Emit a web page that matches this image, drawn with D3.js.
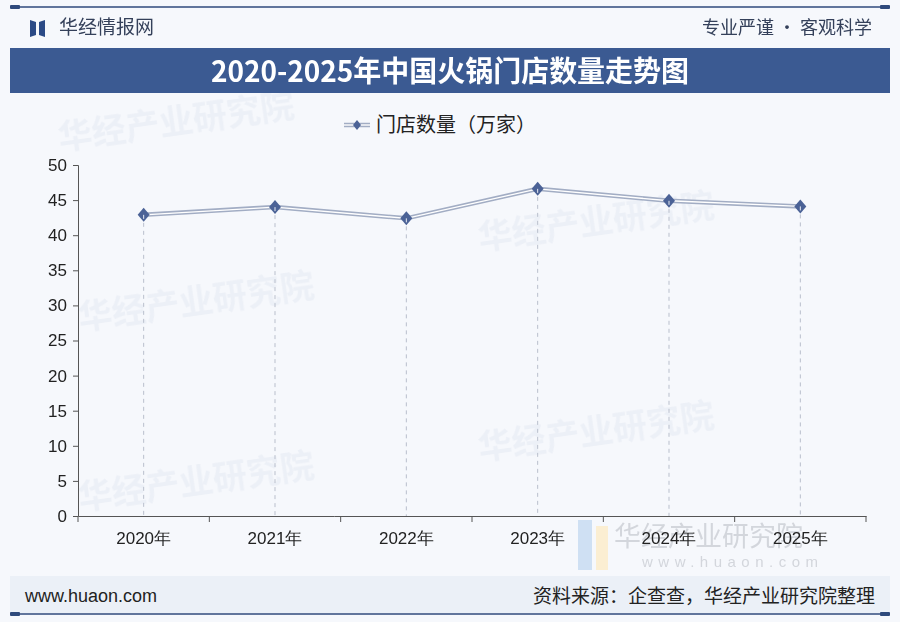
<!DOCTYPE html>
<html><head><meta charset="utf-8">
<script src="https://cdn.jsdelivr.net/npm/d3@7"></script>
<style>
html,body{margin:0;padding:0;background:#f6f8fc;}
svg{display:block;font-family:"Noto Sans CJK SC","Noto Sans",sans-serif;}
</style></head>
<body>
<svg id="c" width="900" height="622"></svg>
<script>
const years = ["2020年","2021年","2022年","2023年","2024年","2025年"];
const stores = [42.9, 44.0, 42.4, 46.6, 44.9, 44.1];
const yTicks = [0,5,10,15,20,25,30,35,40,45,50];
const title = "2020-2025年中国火锅门店数量走势图";
const seriesName = "门店数量（万家）";

const svg = d3.select("#c");
const W = 900, H = 622;
svg.append("rect").attr("width",W).attr("height",H).attr("fill","#f6f8fc");

// watermarks
const wm = svg.append("g").attr("fill","#3b5a92").attr("opacity",0.05).attr("font-size",34).attr("font-weight","bold");
[[60,150],[480,250],[80,330],[480,460],[80,510]].forEach(p=>{
  wm.append("text").attr("x",p[0]).attr("y",p[1]).attr("transform",`rotate(-8,${p[0]},${p[1]})`).text("华经产业研究院");
});

// top rule
svg.append("line").attr("x1",12).attr("x2",888).attr("y1",7).attr("y2",7).attr("stroke","#2f4a7c").attr("stroke-width",1.5);
svg.append("rect").attr("x",10).attr("y",5).attr("width",10).attr("height",4).attr("fill","#2f4a7c").attr("rx",1);
svg.append("rect").attr("x",880).attr("y",5).attr("width",10).attr("height",4).attr("fill","#2f4a7c").attr("rx",1);

// logo
svg.append("path").attr("d","M30,20 L36,22 L36,35 L30,37 Z").attr("fill","#2b4a86");
svg.append("path").attr("d","M39,22 L45,20 L45,37 L39,35 Z").attr("fill","#2b4a86");
svg.append("text").attr("x",59).attr("y",34).attr("font-size",19).attr("fill","#34405a").text("华经情报网");
svg.append("text").attr("x",872).attr("y",34).attr("font-size",18).attr("fill","#34405a").attr("text-anchor","end").text("专业严谨 • 客观科学");

// title band
svg.append("rect").attr("x",10).attr("y",48).attr("width",880).attr("height",45).attr("fill","#3b5a92");
svg.append("text").attr("x",450).attr("y",82).attr("text-anchor","middle").attr("font-size",29).attr("font-weight","bold")
  .attr("fill","#ffffff").attr("textLength",478).attr("lengthAdjust","spacingAndGlyphs").text(title);

// chart
const x = d3.scaleBand().domain(years).range([78,866]);
const y = d3.scaleLinear().domain([0,50]).range([516,165]);

// y axis
const yAx = svg.append("g").attr("transform","translate(78,0)")
  .call(d3.axisLeft(y).tickValues(yTicks).tickSize(5).tickPadding(6));
yAx.select(".domain").attr("stroke","#555").attr("d","M-5,165.5H0.5V516.5");
yAx.selectAll(".tick line").attr("stroke","#555");
yAx.selectAll("text").attr("font-size",17).attr("fill","#222").attr("font-family","'Liberation Sans',Arial,sans-serif");

// x axis
const xAx = svg.append("g").attr("transform","translate(0,516)")
  .call(d3.axisBottom(x).tickSize(0).tickPadding(16));
xAx.select(".domain").attr("stroke","#555");
xAx.selectAll("text").attr("font-size",17).attr("fill","#222");
const edges = years.map(d=>x(d)).concat([x.range()[1]]);
svg.append("g").selectAll("line").data(edges).join("line")
  .attr("x1",d=>d).attr("x2",d=>d).attr("y1",516).attr("y2",522).attr("stroke","#555");

// bottom-right watermark
const bw = svg.append("g");
bw.append("rect").attr("x",578).attr("y",520).attr("width",14).attr("height",50).attr("fill","#cfe0f3");
bw.append("rect").attr("x",596).attr("y",526).attr("width",12).attr("height",44).attr("fill","#fbeed2");
bw.append("text").attr("x",614).attr("y",546).attr("font-size",27).attr("fill","#d3d6dc").text("华经产业研究院");
bw.append("text").attr("x",642).attr("y",567).attr("font-size",15).attr("fill","#d3d6dc").attr("letter-spacing",5.5).attr("font-family","'Liberation Sans',Arial").text("www.huaon.com");
xAx.raise();

// drop lines
svg.append("g").selectAll("line").data(stores).join("line")
  .attr("x1",(d,i)=>x(years[i])+x.bandwidth()/2).attr("x2",(d,i)=>x(years[i])+x.bandwidth()/2)
  .attr("y1",d=>y(d)).attr("y2",516)
  .attr("stroke","#b9bfcc").attr("stroke-width",1).attr("stroke-dasharray","4,4");

// line (double)
const line = d3.line().x((d,i)=>x(years[i])+x.bandwidth()/2).y(d=>y(d));
svg.append("path").datum(stores).attr("d",line).attr("fill","none").attr("stroke","#a2adc4").attr("stroke-width",4.5);
svg.append("path").datum(stores).attr("d",line).attr("fill","none").attr("stroke","#ffffff").attr("stroke-width",1.4);

// markers
const mk = svg.append("g").selectAll("g").data(stores).join("g")
  .attr("transform",(d,i)=>`translate(${x(years[i])+x.bandwidth()/2},${y(d)})`);
mk.append("path").attr("d","M0,-7L6,0L0,7L-6,0Z").attr("fill","#4b6296");
mk.append("line").attr("x1",0).attr("x2",0).attr("y1",0).attr("y2",4).attr("stroke","#e8ecf5").attr("stroke-width",1);

// legend
const lg = svg.append("g").attr("transform","translate(344,125)");
lg.append("line").attr("x1",0).attr("x2",26).attr("y1",0).attr("y2",0).attr("stroke","#a2adc4").attr("stroke-width",4.5);
lg.append("line").attr("x1",0).attr("x2",26).attr("y1",0).attr("y2",0).attr("stroke","#ffffff").attr("stroke-width",1.4);
lg.append("path").attr("d","M13,-5L17,0L13,5L9,0Z").attr("fill","#4b6296");
lg.append("text").attr("x",32).attr("y",7).attr("font-size",20).attr("fill","#222").text(seriesName);

// footer
svg.append("rect").attr("x",10).attr("y",576).attr("width",880).attr("height",37).attr("fill","#ebf0f7");
svg.append("line").attr("x1",12).attr("x2",888).attr("y1",614).attr("y2",614).attr("stroke","#2f4a7c").attr("stroke-width",1.5);
svg.append("rect").attr("x",10).attr("y",612).attr("width",10).attr("height",4).attr("fill","#2f4a7c").attr("rx",1);
svg.append("rect").attr("x",880).attr("y",612).attr("width",10).attr("height",4).attr("fill","#2f4a7c").attr("rx",1);
svg.append("text").attr("x",25).attr("y",602).attr("font-size",18).attr("fill","#222").attr("font-family","'Liberation Sans',Arial,sans-serif").text("www.huaon.com");
svg.append("text").attr("x",875).attr("y",603).attr("text-anchor","end").attr("font-size",19).attr("fill","#222").text("资料来源：企查查，华经产业研究院整理");
</script>
</body></html>
